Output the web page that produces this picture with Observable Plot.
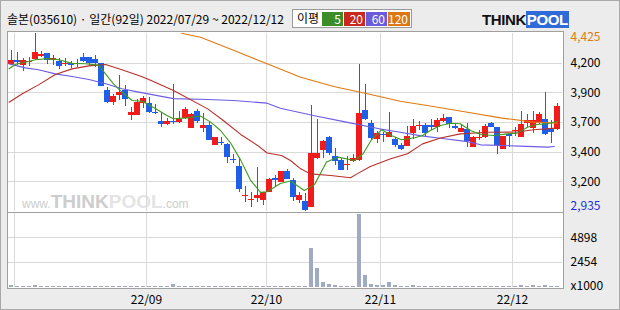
<!DOCTYPE html>
<html><head><meta charset="utf-8">
<script src="https://cdn.jsdelivr.net/npm/d3@7"></script>
<script src="https://cdn.jsdelivr.net/npm/@observablehq/plot@0.6"></script>
<style>
body{margin:0;background:#fff}
#wrap{position:relative;width:620px;height:310px;background:#ececec;overflow:hidden;font-family:'Noto Sans CJK KR','Noto Sans',sans-serif;box-shadow:inset 0 0 0 1px #a9a9a9}
.abs{position:absolute}
.lg{position:absolute;top:2px;height:14px;color:#fff;font-size:12px;line-height:14px;text-align:right;padding-right:2px;box-sizing:border-box}
</style></head><body>
<div id="wrap">
  <div class="abs" style="left:7px;top:12px;font-size:12px;line-height:14px;color:#000;white-space:nowrap">솔본(035610) · 일간(92일) 2022/07/29 ~ 2022/12/12</div>
  <div class="abs" style="left:292px;top:9px;width:120px;height:19px;border:1px solid #9a9a9a;background:#fff;box-sizing:border-box">
    <span style="position:absolute;left:4px;top:1px;font-size:12px;line-height:14px">이평</span>
    <div class="lg" style="left:29px;width:21px;background:#3c8c28">5</div>
    <div class="lg" style="left:51px;width:21px;background:#c8281e">20</div>
    <div class="lg" style="left:73px;width:21px;background:#6a5adc">60</div>
    <div class="lg" style="left:95px;width:22px;background:#dc7814">120</div>
  </div>
  <div class="abs" style="left:482px;top:12px;white-space:nowrap;font-family:'Liberation Sans',Arial,sans-serif;font-weight:bold;font-size:15px;line-height:16px;letter-spacing:-0.4px"><span style="color:#111">THINK</span><span style="color:#fff;background:#2f6ad9;padding:0 1px">POOL</span></div>
  <div class="abs" style="left:7px;top:31px;width:557px;height:258px;border:1px solid #a0a0a0;background:#fff;box-sizing:border-box"></div>
  <div class="abs" style="left:22px;top:192px;white-space:nowrap;font-family:'Liberation Sans',Arial,sans-serif;color:#cdcdcd;line-height:19px"><span style="font-size:12px">www.</span><span style="font-size:19px;font-weight:bold">THINK</span><span style="font-size:19px;font-weight:bold;color:#e4e4e4">POOL</span><span style="font-size:12px">.com</span></div>
  <div class="abs" style="left:7px;top:212px;width:557px;height:1px;background:#a0a0a0"></div>
  <div class="abs" id="price" style="left:0;top:31px"></div>
  <div class="abs" id="vol" style="left:0;top:212px"></div>
</div>
<script>
// ---- data ----
const open  = [4165,4200,4160,4180,4205,4235,4255,4202,4190,4163,4175,4165,4225,4224,4207,4171,3948,3850,3906,3948,3742,3742,3842,3836,3767,3691,3660,3691,3680,3711,3633,3769,3633,3655,3488,3512,3496,3373,3312,3063,3025,3047,3027,3097,3214,3181,3270,3194,3027,3022,2971,3376,3446,3552,3396,3362,3318,3356,3362,3780,3669,3538,3582,3557,3535,3487,3482,3585,3648,3655,3655,3641,3691,3719,3647,3596,3619,3474,3549,3552,3674,3635,3451,3580,3602,3557,3674,3633,3677,3702,3619,3619];
const high  = [4285,4265,4215,4225,4425,4275,4258,4240,4215,4213,4190,4205,4258,4226,4245,4172,3970,3915,4073,3990,3808,3870,3898,3892,3828,3767,3716,3998,3772,3808,3753,3786,3753,3691,3558,3558,3502,3412,3376,3145,3097,3301,3096,3214,3236,3272,3284,3208,3097,3083,3822,3705,3530,3563,3460,3376,3395,3412,4165,4002,3697,3605,3600,3766,3557,3501,3646,3702,3691,3669,3702,3711,3744,3722,3674,3655,3669,3563,3613,3663,3676,3640,3566,3583,3641,3772,3747,3772,3761,3928,3697,3836];
const low   = [4155,4155,4110,4150,4200,4220,4165,4160,4125,4150,4128,4140,4180,4152,4143,3983,3836,3822,3860,3815,3697,3741,3794,3753,3747,3641,3655,3660,3669,3702,3633,3669,3599,3528,3486,3488,3340,3340,3090,3010,2972,3013,2983,3095,3133,3178,3200,3022,2999,2935,2968,3370,3376,3404,3320,3275,3278,3348,3356,3700,3529,3501,3515,3552,3468,3445,3480,3535,3613,3552,3613,3599,3683,3627,3622,3594,3474,3472,3529,3550,3638,3412,3450,3468,3563,3555,3641,3585,3660,3571,3507,3616];
const close = [4200,4185,4200,4188,4265,4250,4195,4218,4150,4171,4155,4173,4190,4172,4172,3985,3850,3898,3934,3875,3767,3850,3881,3767,3755,3666,3691,3677,3705,3792,3747,3691,3658,3530,3552,3504,3390,3365,3120,3071,3033,3069,3094,3203,3195,3270,3203,3055,3069,2945,3418,3418,3521,3418,3357,3278,3326,3376,3758,3702,3543,3585,3574,3599,3487,3451,3563,3647,3656,3585,3635,3697,3713,3660,3630,3633,3524,3552,3557,3647,3641,3488,3563,3565,3610,3663,3697,3697,3747,3580,3600,3814];
// volume, thousands of shares
const volume = [235,100,100,100,235,100,100,100,100,100,
                100,100,100,100,100,100,100,100,100,100,
                100,100,100,100,100,100,100,330,100,100,
                100,100,100,100,100,100,100,100,100,100,
                100,100,100,100,100,100,100,100,100,100,
                3850,1900,460,330,235,100,100,100,7175,1210,
                330,235,235,530,235,100,100,235,100,100,
                100,100,100,100,100,100,100,100,100,100,
                100,100,100,100,100,235,100,235,100,235,
                100,100];
// moving averages (position in trading days, price)
const ma5Idx = [-0.4,0.7,2.3,4,6,7.9,10.1,12.3,14.5,15.7,17,18.4,20.1,21.8,23.9,25.9,27,29.2,31.5,33.2,34.8,36.5,38.2,39.8,41.5,42.6,44.8,46.5,48.8,50.5,52.5,54.4,57.2,58.6,60,61.7,63.3,65,67.2,68.5,69.8,71.5,73.2,74.8,76.5,78.2,80.4,82.6,84.3,86,87.6,89.3,91];
const ma5Val = [4130,4168,4185,4205,4215,4205,4175,4172,4160,4085,4004,3935,3864,3858,3800,3739,3711,3719,3735,3683,3615,3510,3365,3200,3095,3100,3170,3190,3111,3160,3350,3390,3362,3418,3535,3620,3571,3535,3552,3571,3613,3655,3674,3669,3613,3580,3571,3585,3591,3641,3663,3669,3691];
const ma20Idx = [-0.4,1.8,4.5,7.3,10.1,12.9,15.7,18.4,21.2,22.7,27,32.7,35.3,38.2,41,42.6,45,46.5,48.2,49.8,53.2,56.5,57.6,59.8,63.2,66,68.5,71.5,74.8,79.3,84.3,87,90.7];
const ma20Val = [3850,3920,3995,4082,4129,4154,4165,4121,4073,4045,3948,3794,3697,3580,3488,3425,3404,3362,3292,3250,3236,3217,3250,3311,3376,3418,3501,3550,3585,3599,3600,3619,3633];
const ma60Idx = [-0.4,2.3,4.5,7.3,10.1,12.9,15.7,18.4,21.2,27,32.7,37,42.6,44.8,50.3,55.8,61.3,64.8,68.3,71.5,76,78.2,84.8,89.3,90.5];
const ma60Val = [4171,4137,4121,4087,4065,4040,4004,3962,3934,3880,3872,3864,3842,3800,3739,3683,3627,3599,3568,3548,3520,3493,3482,3474,3479];
const ma120Idx = [27.5,28.5,31.5,37,42.6,48.2,53.7,59.3,64.8,70.3,76,81.5,87,91];
const ma120Val = [4450,4425,4394,4285,4171,4059,3981,3920,3858,3814,3766,3719,3683,3674];
// axis ticks
const priceTickVals = [4176.7,3928.3,3680,3431.7,3183.3];
const priceTickLabels = ["4,200","3,900","3,700","3,400","3,200"];
const priceMax = 4425, priceMin = 2935;
const volTickVals = [4898,2454];
const volTickLabels = ["4898","2454"];
const monthGridIdx = [0.5,22.5,42.5,61.5,83.5];
const monthLabelIdx = [22.5,42.5,61.5,83.5];
const monthLabels = ["22/09","22/10","22/11","22/12"];

// ---- build ----
const UP = "#f01c1c", DOWN = "#1f5fe6", GRID = "#d9d9d9";
const candles = close.map((c, i) => ({i, o: open[i], h: high[i], l: low[i], c, v: volume[i]}));
const mkLine = (ix, vals, color) => ix.map((x, k) => ({x, y: vals[k], color}));
const maLines = [
  mkLine(ma120Idx, ma120Val, "#e07a10"),
  mkLine(ma60Idx, ma60Val, "#6b5de6"),
  mkLine(ma20Idx, ma20Val, "#b8302c"),
  mkLine(ma5Idx, ma5Val, "#3f9a20")
];
const xDomain = [-0.5, 91.8333];
const font = {fontFamily: "'Noto Sans CJK KR','Noto Sans',sans-serif", fontSize: "12px", background: "transparent", overflow: "visible"};
const pTickMap = new Map(priceTickVals.map((v, k) => [v, priceTickLabels[k]]));
const vTickMap = new Map(volTickVals.map((v, k) => [v, volTickLabels[k]]));
const mMap = new Map(monthLabelIdx.map((v, k) => [v, monthLabels[k]]));
const col = d => d.c >= d.o ? UP : DOWN;
const ax = {anchor: "right", tickSize: 0, tickPadding: 8, label: null};

const price = Plot.plot({
  width: 620, height: 181,
  marginLeft: 8, marginRight: 58, marginTop: 2, marginBottom: 1,
  style: font,
  x: {domain: xDomain, axis: null},
  y: {domain: [priceMin, priceMax], label: null},
  marks: [
    Plot.ruleY(priceTickVals, {stroke: GRID, shapeRendering: "crispEdges"}),
    Plot.ruleX(monthGridIdx, {stroke: GRID, shapeRendering: "crispEdges"}),
    Plot.ruleX(candles, {x: "i", y1: "l", y2: "h", stroke: col, shapeRendering: "crispEdges"}),
    Plot.rect(candles, {x1: d => d.i - 0.42, x2: d => d.i + 0.42, y1: "o", y2: "c", fill: col, shapeRendering: "crispEdges"}),
    ...maLines.map(L => Plot.line(L, {x: "x", y: "y", stroke: L[0].color, strokeWidth: 1.1, clip: true})),
    Plot.axisY(priceTickVals, {...ax, tickFormat: d => pTickMap.get(d), fill: "#000"}),
    Plot.axisY([priceMax], {...ax, tickFormat: () => "4,425", fill: "#e07a10", dy: 4}),
    Plot.axisY([priceMin], {...ax, tickFormat: () => "2,935", fill: "#1a2fe0", dy: -5})
  ]
});
document.getElementById("price").appendChild(price);

const vol = Plot.plot({
  width: 620, height: 98,
  marginLeft: 8, marginRight: 58, marginTop: 1, marginBottom: 23,
  style: font,
  x: {domain: xDomain, label: null},
  y: {domain: [0, 7300], label: null},
  marks: [
    Plot.ruleY(volTickVals, {stroke: GRID, shapeRendering: "crispEdges"}),
    Plot.ruleX(monthGridIdx, {stroke: GRID, shapeRendering: "crispEdges"}),
    Plot.rectY(candles, {x1: d => d.i - 0.4, x2: d => d.i + 0.4, y: "v", fill: "#a1aac3", shapeRendering: "crispEdges"}),
    Plot.axisY(volTickVals, {...ax, tickFormat: d => vTickMap.get(d), fill: "#000"}),
    Plot.axisY([0], {...ax, tickFormat: () => "x1000", fill: "#000", dy: -1}),
    Plot.axisX(monthLabelIdx, {anchor: "bottom", tickSize: 0, tickPadding: 8, label: null, tickFormat: d => mMap.get(d), fill: "#000"})
  ]
});
document.getElementById("vol").appendChild(vol);
</script>
</body></html>
